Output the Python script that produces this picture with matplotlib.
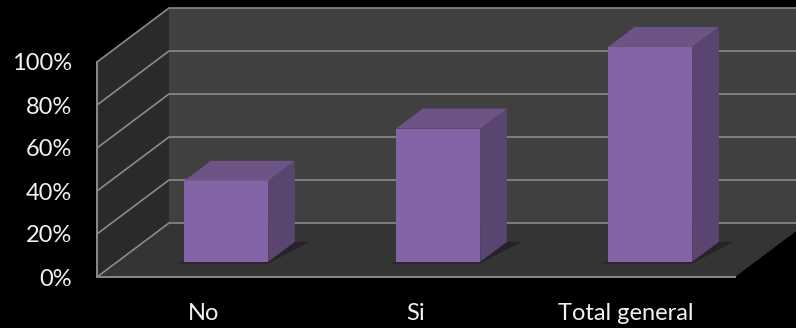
import matplotlib
matplotlib.use('Agg')
import matplotlib.pyplot as plt
from matplotlib.patches import Polygon

categories = ['No', 'Si', 'Total general']
values = [37.7, 62, 100] # percent
y_ticks = [0, 20, 40, 60, 80, 100]
y_labels = ['0%', '20%', '40%', '60%', '80%', '100%']

W, H = 796, 328
PX_CAT = 212.0 # pixels per category
PX_PCT = 2.15 # pixels per percent
X0_PX = 206 # pixel of the first category centre on the front plane
Y0_PX = 277 # pixel of 0% on the front edge

# oblique projection, full depth of the floor
DX = 72 / PX_CAT
DY = 54 / PX_PCT
X_LEFT = (97 - X0_PX) / PX_CAT
X_RIGHT = (735 - X0_PX) / PX_CAT
BAR_W = 84 / PX_CAT

plt.rcParams['font.family'] = ['Lato', 'DejaVu Sans']
fig = plt.figure(figsize=(W / 100, H / 100), dpi=100, facecolor='black')
ax = fig.add_axes([0, 0, 1, 1])
ax.set_xlim(-X0_PX / PX_CAT, (W - X0_PX) / PX_CAT)
ax.set_ylim(-(H - Y0_PX) / PX_PCT, Y0_PX / PX_PCT)
ax.axis('off')


def proj(x, y, d): # point at depth d (0 front, 1 back wall)
    return (x + DX * d, y + DY * d)


def face(pts, color, z=1, lw=0, ec='none'):
    ax.add_patch(Polygon(pts, closed=True, fc=color, ec=ec, lw=lw, zorder=z))


# walls and floor
far = X_RIGHT + 1
face([proj(X_LEFT, 0, 1), proj(far, 0, 1), proj(far, 100, 1), proj(X_LEFT, 100, 1)], '#404040')
face([proj(X_LEFT, 0, 0), proj(X_LEFT, 0, 1), proj(X_LEFT, 100, 1), proj(X_LEFT, 100, 0)], '#2a2a2a')
face([proj(X_LEFT, 0, 0), proj(X_RIGHT, 0, 0), proj(X_RIGHT, 0, 1.0), proj(far, 0, 1), proj(X_LEFT, 0, 1)], '#343434', z=1.5)

# gridlines
grid = '#8a8a8a'
for t in y_ticks:
    xs, ys = zip(proj(X_LEFT, t, 0), proj(X_LEFT, t, 1), proj(far, t, 1))
    ax.plot(xs, ys, color=grid, lw=1.2, zorder=2, solid_joinstyle='miter')
xs, ys = zip(proj(X_LEFT, 100, 0), proj(X_LEFT, 0, 0), proj(X_RIGHT, 0, 0))
ax.plot(xs, ys, color=grid, lw=1.4, zorder=2.1)

# bars
D1, D2 = 0.28, 0.65
for i, v in enumerate(values):
    l, r = i - BAR_W / 2, i + BAR_W / 2
    # shadow on the floor
    face([proj(l - 0.03, 0, D1 - 0.03), proj(r + 0.01, 0, D1 - 0.03), proj(r + 0.07, 0, D2),
          proj(r - 0.05, 0, D2)], '#262229', z=2.5)
    face([proj(l, 0, D1), proj(r, 0, D1), proj(r, v, D1), proj(l, v, D1)], '#8364a6', z=3.2)
    face([proj(r, 0, D1), proj(r, 0, D2), proj(r, v, D2), proj(r, v, D1)], '#5a4570', z=3)
    face([proj(l, v, D1), proj(r, v, D1), proj(r, v, D2), proj(l, v, D2)], '#6d5487', z=3)

# tick labels
for t, lab in zip(y_ticks, y_labels):
    ax.text(X_LEFT - 25 / PX_CAT, t - 2 / PX_PCT, lab, color='#f2f2f2', fontsize=17, ha='right', va='center')
label_off = [-0.013, -0.012, -0.02]
for i, c in enumerate(categories):
    ax.text(i + label_off[i], -36 / PX_PCT, c, color='#f2f2f2', fontsize=17, ha='center', va='center')

fig.savefig('out.png', dpi=100, facecolor='black')
